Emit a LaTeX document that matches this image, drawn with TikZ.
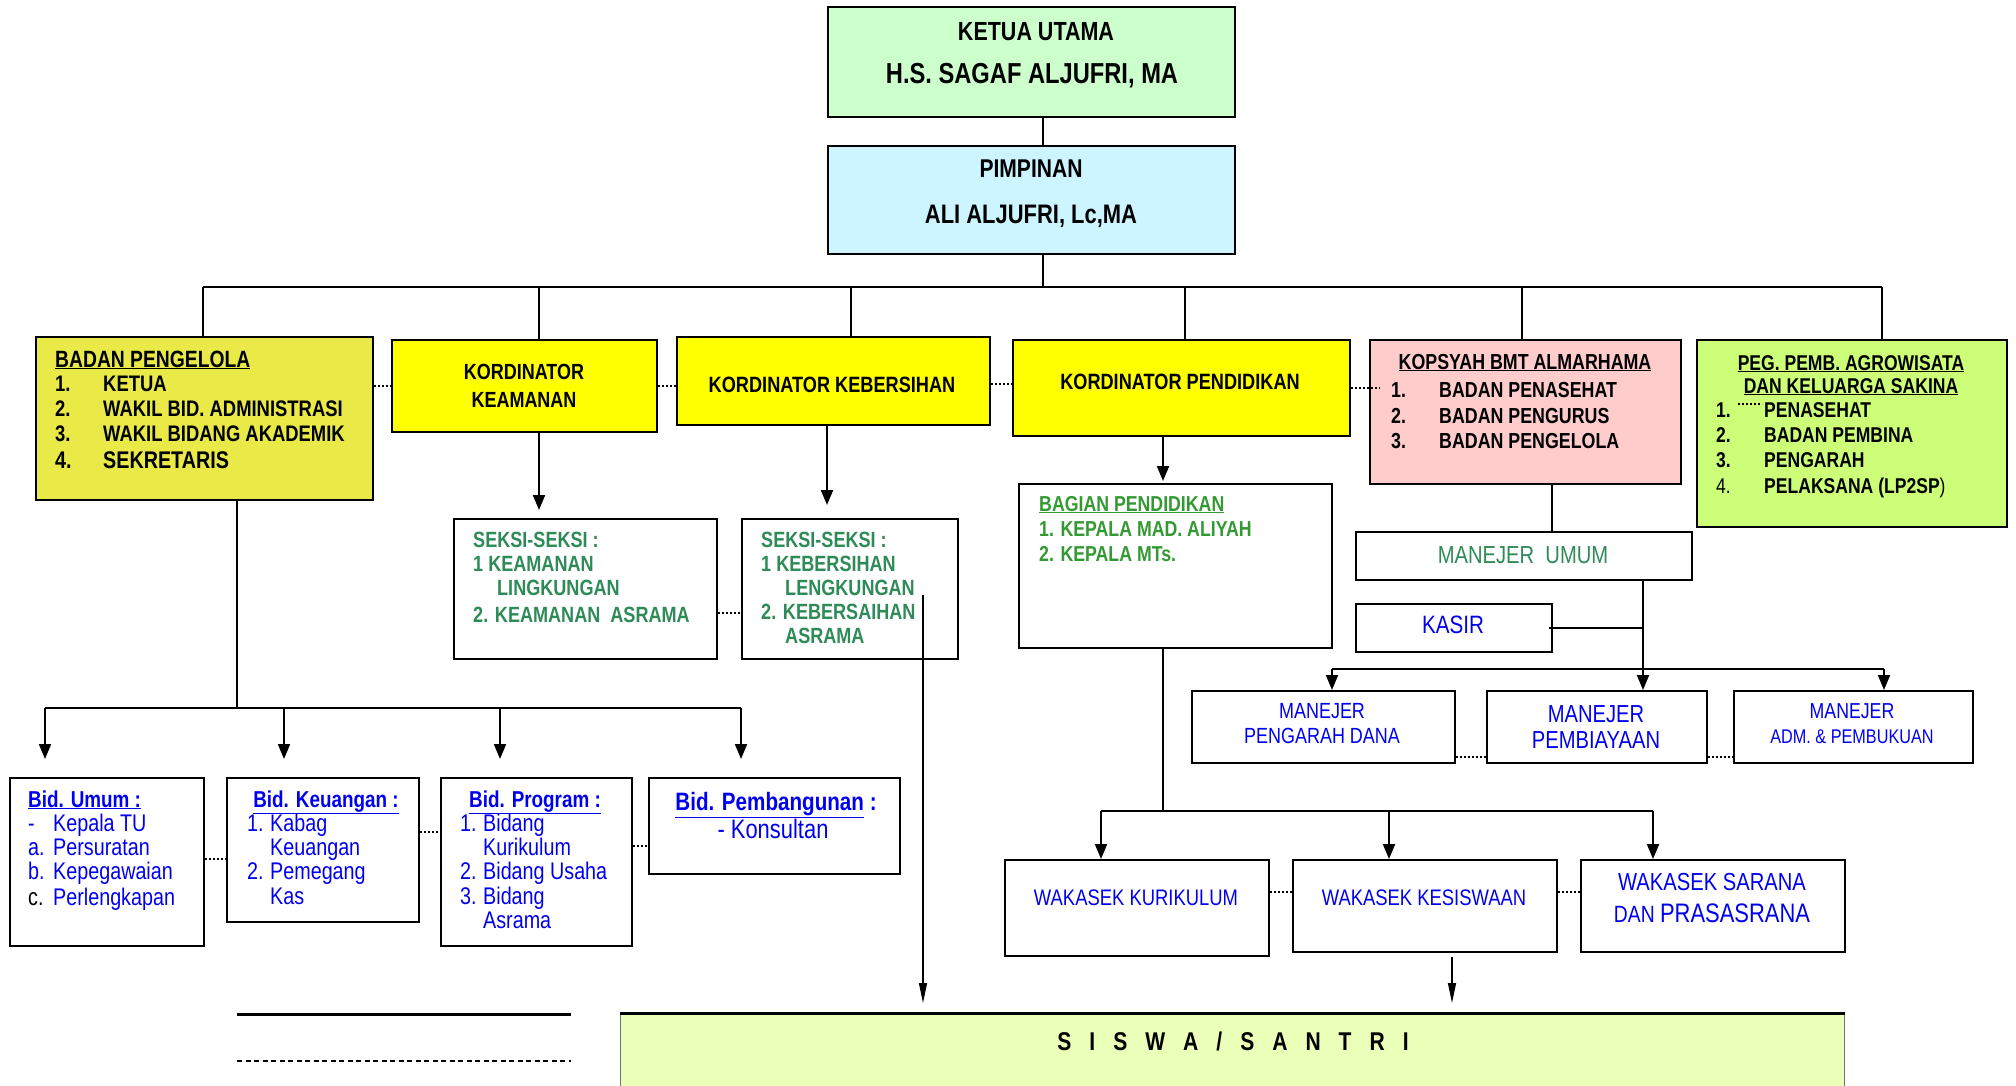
\documentclass[tikz,border=0pt]{standalone}
\usepackage{fontspec}
\setmainfont{Liberation Sans}[FakeStretch=0.82]
\usetikzlibrary{arrows.meta}
\definecolor{cketua}{RGB}{204,255,204}
\definecolor{cpimp}{RGB}{204,245,255}
\definecolor{cbadan}{RGB}{233,233,72}
\definecolor{cyel}{RGB}{255,255,0}
\definecolor{cpink}{RGB}{255,204,204}
\definecolor{cpeg}{RGB}{204,255,119}
\definecolor{csiswa}{RGB}{234,255,184}
\definecolor{tgreen}{RGB}{46,139,87}
\definecolor{tgreenb}{RGB}{51,153,51}
\definecolor{tblue}{RGB}{0,0,240}
\newcommand\fs[1]{\pgfmathsetmacro\fsz{#1*1.07}\fontsize{\fsz pt}{\fsz pt}\selectfont}
\newcommand\bx[6]{%
  \pgfmathsetmacro\bxw{#4-#2}\pgfmathsetmacro\bxh{#5-#3}%
  \node[box,#6,minimum width=\bxw pt,minimum height=\bxh pt,anchor=north west] (#1) at (#2,#3) {};}
\begin{document}
\begin{tikzpicture}[x=1pt,y=-1pt,
  box/.style={draw=black,line width=2pt,inner sep=0pt,fill=white},
  conn/.style={line width=2pt},
  arr/.style={line width=2pt,-{Triangle[length=15pt,width=12pt]}},
  thinarr/.style={line width=1.3pt,-{Triangle[length=20pt,width=8pt]}},
  dots/.style={line width=2pt,dash pattern=on 2pt off 2pt},
  tl/.style={inner sep=0pt,anchor=base west},
  tc/.style={inner sep=0pt,anchor=base}]
\fill[white] (0,0) rectangle (2016,1085);
\useasboundingbox (0,0) rectangle (2016,1085);

% ---------- boxes ----------
\bx{ketua}{827}{6}{1234}{116}{fill=cketua}
\bx{pimp}{827}{145}{1234}{253}{fill=cpimp}
\bx{badan}{35}{336}{372}{499}{fill=cbadan}
\bx{keam}{391}{339}{656}{431}{fill=cyel}
\bx{kebe}{676}{336}{989}{424}{fill=cyel}
\bx{pend}{1012}{339}{1349}{435}{fill=cyel}
\bx{kops}{1369}{339}{1680}{483}{fill=cpink}
\bx{peg}{1696}{339}{2006}{526}{fill=cpeg}
\bx{seksa}{453}{518}{716}{658}{}
\bx{seksb}{741}{518}{957}{658}{}
\bx{bag}{1018}{483}{1331}{647}{}
\bx{mum}{1355}{531}{1691}{579}{}
\bx{kasir}{1355}{603}{1551}{651}{}
\bx{mpd}{1191}{690}{1454}{762}{}
\bx{mpb}{1486}{690}{1706}{762}{}
\bx{madm}{1733}{690}{1972}{762}{}
\bx{bumum}{9}{777}{203}{945}{}
\bx{bkeu}{226}{777}{418}{921}{}
\bx{bprog}{440}{777}{631}{945}{}
\bx{bpemb}{648}{777}{899}{873}{}
\bx{wkur}{1004}{859}{1268}{955}{}
\bx{wkes}{1292}{859}{1556}{951}{}
\bx{wsar}{1580}{859}{1844}{951}{}
\bx{siswa}{620}{1013}{1844}{1100}{fill=csiswa,draw=black!55,line width=1pt}
\draw[line width=3pt] (siswa.north west) -- (siswa.north east);

% ---------- helper coordinates ----------
\coordinate (cA) at (1043,0);
\coordinate (busy) at (0,287);
\coordinate (d1) at (203,0);
\coordinate (d2) at (539,0);
\coordinate (d3) at (851,0);
\coordinate (d4) at (1185,0);
\coordinate (d5) at (1522,0);
\coordinate (d6) at (1882,0);
\coordinate (k2) at (827,0);
\coordinate (k3) at (1163,0);
\coordinate (k4) at (1552,0);
\coordinate (k5) at (1643,0);
\coordinate (k6) at (1332,0);
\coordinate (k7) at (1884,0);
\coordinate (k8) at (237,0);
\coordinate (h1) at (0,708);
\coordinate (h2) at (0,811);
\coordinate (h3) at (0,669);
\coordinate (a1) at (45,0);
\coordinate (a2) at (284,0);
\coordinate (a3) at (500,0);
\coordinate (a4) at (741,0);
\coordinate (tipy) at (0,759);
\coordinate (w1) at (1101,0);
\coordinate (w2) at (1389,0);
\coordinate (w3) at (1653,0);
\coordinate (ls) at (923,595);
\coordinate (wk) at (1452,0);
\coordinate (r1) at (0,386);
\coordinate (r2) at (0,384);
\coordinate (r3) at (0,388);
\coordinate (r4) at (0,757);
\coordinate (r5) at (0,613);
\coordinate (r6) at (0,859);
\coordinate (r7) at (0,832);
\coordinate (r8) at (0,846);
\coordinate (r9) at (0,892);
\coordinate (kend) at (1380,0);
\coordinate (lg1) at (237,1014);
\coordinate (lg2) at (571,1014);
\coordinate (lg3) at (237,1061);
\coordinate (lg4) at (571,1061);
\coordinate (pd1) at (1738,404);
\coordinate (pd2) at (1762,404);

% ---------- connectors ----------
\draw[conn] (ketua.south -| cA) -- (pimp.north -| cA);
\draw[conn] (pimp.south -| cA) -- (busy -| cA);
\draw[conn] (busy -| d1) -- (busy -| d6);
\draw[conn] (busy -| d1) -- (badan.north -| d1);
\draw[conn] (busy -| d2) -- (keam.north -| d2);
\draw[conn] (busy -| d3) -- (kebe.north -| d3);
\draw[conn] (busy -| d4) -- (pend.north -| d4);
\draw[conn] (busy -| d5) -- (kops.north -| d5);
\draw[conn] (busy -| d6) -- (peg.north -| d6);

\draw[dots] (r1 -| badan.east) -- (r1 -| keam.west);
\draw[dots] (r1 -| keam.east) -- (r1 -| kebe.west);
\draw[dots] (r2 -| kebe.east) -- (r2 -| pend.west);
\draw[dots] (r3 -| pend.east) -- (r3 -| kend);
\draw[line width=1.5pt,dash pattern=on 2pt off 2pt] (pd1) -- (pd2);

\draw[arr,shorten >=8pt] (keam.south -| d2) -- (seksa.north -| d2);
\draw[arr,shorten >=13pt] (kebe.south -| k2) -- (seksb.north -| k2);
\draw[arr,shorten >=2pt] (pend.south -| k3) -- (bag.north -| k3);
\draw[dots] (r5 -| seksa.east) -- (r5 -| seksb.west);

\draw[conn] (kops.south -| k4) -- (mum.north -| k4);
\draw[arr] (mum.south -| k5) -- (mpb.north -| k5);
\draw[conn] ([xshift=-4pt]kasir.east) -- (kasir.east -| k5);
\draw[conn] (h3 -| k6) -- (h3 -| k7);
\draw[arr] (h3 -| k6) -- (mpd.north -| k6);
\draw[arr] (h3 -| k7) -- (madm.north -| k7);
\draw[dots] (r4 -| mpd.east) -- (r4 -| mpb.west);
\draw[dots] (r4 -| mpb.east) -- (r4 -| madm.west);

\draw[conn] (badan.south -| k8) -- (h1 -| k8);
\draw[conn] (h1 -| a1) -- (h1 -| a4);
\draw[arr] (h1 -| a1) -- (tipy -| a1);
\draw[arr] (h1 -| a2) -- (tipy -| a2);
\draw[arr] (h1 -| a3) -- (tipy -| a3);
\draw[arr] (h1 -| a4) -- (tipy -| a4);
\draw[dots] (r6 -| bumum.east) -- (r6 -| bkeu.west);
\draw[dots] (r7 -| bkeu.east) -- (r7 -| bprog.west);
\draw[dots] (r8 -| bprog.east) -- (r8 -| bpemb.west);

\draw[conn] (bag.south -| k3) -- (h2 -| k3);
\draw[conn] (h2 -| w1) -- (h2 -| w3);
\draw[arr] (h2 -| w1) -- (wkur.north -| w1);
\draw[arr] (h2 -| w2) -- (wkes.north -| w2);
\draw[arr] (h2 -| w3) -- (wsar.north -| w3);
\draw[dots] (r9 -| wkur.east) -- (r9 -| wkes.west);
\draw[dots] (r9 -| wkes.east) -- (r9 -| wsar.west);

\draw[thinarr,shorten >=10pt] (ls) -- (siswa.north -| ls);
\draw[thinarr,shorten >=10pt] ([yshift=-4pt]wkes.south -| wk) -- (siswa.north -| wk);

\draw[line width=3pt] (lg1) -- (lg2);
\draw[line width=2.5pt,dash pattern=on 5pt off 3.5pt] (lg3) -- (lg4);

% ---------- texts ----------
\node[tc,font=\bfseries\fs{24.5}] (t01) at (1036,40) {KETUA UTAMA};
\node[tc,font=\bfseries\fs{27}] (t02) at (1032,83) {H.S. SAGAF ALJUFRI, MA};
\node[tc,font=\bfseries\fs{24}] (t03) at (1031,177) {PIMPINAN};
\node[tc,font=\bfseries\fs{25}] (t04) at (1031,223) {ALI ALJUFRI, Lc,MA};

\node[tl,font=\bfseries\fs{22}] (t05) at (55,367) {\underline{BADAN PENGELOLA}};
\node[tl,font=\bfseries\fs{21}] (t06) at (55,391) {1.};
\node[tl,font=\bfseries\fs{21}] (t07) at (103,391) {KETUA};
\node[tl,font=\bfseries\fs{21}] (t08) at (55,416) {2.};
\node[tl,font=\bfseries\fs{21}] (t09) at (103,416) {WAKIL BID. ADMINISTRASI};
\node[tl,font=\bfseries\fs{21}] (t10) at (55,441) {3.};
\node[tl,font=\bfseries\fs{21}] (t11) at (103,441) {WAKIL BIDANG AKADEMIK};
\node[tl,font=\bfseries\fs{22.5}] (t12) at (55,468) {4.};
\node[tl,font=\bfseries\fs{22.5}] (t13) at (103,468) {SEKRETARIS};

\node[tc,font=\bfseries\fs{20.5}] (t14) at (524,379) {KORDINATOR};
\node[tc,font=\bfseries\fs{20.5}] (t15) at (524,407) {KEAMANAN};
\node[tc,font=\bfseries\fs{20.7}] (t16) at (832,392) {KORDINATOR KEBERSIHAN};
\node[tc,font=\bfseries\fs{20.7}] (t17) at (1180,389) {KORDINATOR PENDIDIKAN};

\node[tc,font=\bfseries\fs{20.3}] (t18) at (1525,369) {\underline{KOPSYAH BMT ALMARHAMA}};
\node[tl,font=\bfseries\fs{20.3}] (t19) at (1391,397) {1.};
\node[tl,font=\bfseries\fs{20.3}] (t20) at (1439,397) {BADAN PENASEHAT};
\node[tl,font=\bfseries\fs{20.3}] (t21) at (1391,423) {2.};
\node[tl,font=\bfseries\fs{20.3}] (t22) at (1439,423) {BADAN PENGURUS};
\node[tl,font=\bfseries\fs{20.3}] (t23) at (1391,448) {3.};
\node[tl,font=\bfseries\fs{20.3}] (t24) at (1439,448) {BADAN PENGELOLA};

\node[tc,font=\bfseries\fs{20}] (t25) at (1851,370) {\underline{PEG. PEMB. AGROWISATA}};
\node[tc,font=\bfseries\fs{20}] (t26) at (1851,393) {\underline{DAN KELUARGA SAKINA}};
\node[tl,font=\bfseries\fs{20}] (t27) at (1716,417) {1.};
\node[tl,font=\bfseries\fs{20}] (t28) at (1764,417) {PENASEHAT};
\node[tl,font=\bfseries\fs{20}] (t29) at (1716,442) {2.};
\node[tl,font=\bfseries\fs{20}] (t30) at (1764,442) {BADAN PEMBINA};
\node[tl,font=\bfseries\fs{20}] (t31) at (1716,467) {3.};
\node[tl,font=\bfseries\fs{20}] (t32) at (1764,467) {PENGARAH};
\node[tl,font=\fs{20}] (t33) at (1716,493) {4.};
\node[tl,font=\fs{20}] (t34) at (1764,493) {\bfseries PELAKSANA (LP2SP\mdseries)};

\node[tl,font=\bfseries\fs{20.6},text=tgreen] (t35) at (473,547) {SEKSI-SEKSI :};
\node[tl,font=\bfseries\fs{20.6},text=tgreen] (t36) at (473,571) {1 KEAMANAN};
\node[tl,font=\bfseries\fs{20.6},text=tgreen] (t37) at (497,595) {LINGKUNGAN};
\node[tl,font=\bfseries\fs{20.6},text=tgreen] (t38) at (473,622) {2. KEAMANAN\ \ ASRAMA};
\node[tl,font=\bfseries\fs{20.6},text=tgreen] (t39) at (761,547) {SEKSI-SEKSI :};
\node[tl,font=\bfseries\fs{20.6},text=tgreen] (t40) at (761,571) {1 KEBERSIHAN};
\node[tl,font=\bfseries\fs{20.6},text=tgreen] (t41) at (785,595) {LENGKUNGAN};
\node[tl,font=\bfseries\fs{20.6},text=tgreen] (t42) at (761,619) {2. KEBERSAIHAN};
\node[tl,font=\bfseries\fs{20.6},text=tgreen] (t43) at (785,643) {ASRAMA};

\node[tl,font=\bfseries\fs{20.2},text=tgreenb] (t44) at (1039,511) {\underline{BAGIAN PENDIDIKAN}};
\node[tl,font=\bfseries\fs{20.2},text=tgreenb] (t45) at (1039,536) {1. KEPALA MAD. ALIYAH};
\node[tl,font=\bfseries\fs{20.2},text=tgreenb] (t46) at (1039,561) {2. KEPALA MTs.};

\node[tc,font=\fs{23},text=tgreen] (t47) at (1523,563) {MANEJER\ \ UMUM};
\node[tc,font=\fs{23.5},text=tblue] (t48) at (1453,633) {KASIR};
\node[tc,font=\fs{20.5},text=tblue] (t49) at (1322,718) {MANEJER};
\node[tc,font=\fs{20.5},text=tblue] (t50) at (1322,743) {PENGARAH DANA};
\node[tc,font=\fs{23},text=tblue] (t51) at (1596,722) {MANEJER};
\node[tc,font=\fs{23},text=tblue] (t52) at (1596,748) {PEMBIAYAAN};
\node[tc,font=\fs{20.2},text=tblue] (t53) at (1852,718) {MANEJER};
\node[tc,font=\fs{18.5},text=tblue] (t54) at (1852,743) {ADM. \& PEMBUKUAN};

\node[tl,font=\bfseries\fs{21.5},text=tblue] (t55) at (28,807) {\underline{Bid. Umum :}};
\node[tl,font=\fs{22.5},text=tblue] (t56) at (28,831) {-};
\node[tl,font=\fs{22.5},text=tblue] (t57) at (53,831) {Kepala TU};
\node[tl,font=\fs{22.5},text=tblue] (t58) at (28,855) {a.};
\node[tl,font=\fs{22.5},text=tblue] (t59) at (53,855) {Persuratan};
\node[tl,font=\fs{22.5},text=tblue] (t60) at (28,879) {b.};
\node[tl,font=\fs{22.5},text=tblue] (t61) at (53,879) {Kepegawaian};
\node[tl,font=\fs{22.5}] (t62) at (28,905) {c.};
\node[tl,font=\fs{22.5},text=tblue] (t63) at (53,905) {Perlengkapan};

\node[tc,font=\bfseries\fs{21.5},text=tblue] (t64) at (326,807) {\underline{Bid. Keuangan :}};
\node[tl,font=\fs{22.5},text=tblue] (t65) at (247,831) {1.};
\node[tl,font=\fs{22.5},text=tblue] (t66) at (270,831) {Kabag};
\node[tl,font=\fs{22.5},text=tblue] (t67) at (270,855) {Keuangan};
\node[tl,font=\fs{22.5},text=tblue] (t68) at (247,879) {2.};
\node[tl,font=\fs{22.5},text=tblue] (t69) at (270,879) {Pemegang};
\node[tl,font=\fs{22.5},text=tblue] (t70) at (270,904) {Kas};

\node[tc,font=\bfseries\fs{21.5},text=tblue] (t71) at (535,807) {\underline{Bid. Program :}};
\node[tl,font=\fs{22.5},text=tblue] (t72) at (460,831) {1.};
\node[tl,font=\fs{22.5},text=tblue] (t73) at (483,831) {Bidang};
\node[tl,font=\fs{22.5},text=tblue] (t74) at (483,855) {Kurikulum};
\node[tl,font=\fs{22.5},text=tblue] (t75) at (460,879) {2.};
\node[tl,font=\fs{22.5},text=tblue] (t76) at (483,879) {Bidang Usaha};
\node[tl,font=\fs{22.5},text=tblue] (t77) at (460,904) {3.};
\node[tl,font=\fs{22.5},text=tblue] (t78) at (483,904) {Bidang};
\node[tl,font=\fs{22.5},text=tblue] (t79) at (483,928) {Asrama};

\node[tc,font=\bfseries\fs{23.5},text=tblue] (t80) at (776,810) {\underline{Bid. Pembangunan} :};
\node[tc,font=\fs{25},text=tblue] (t81) at (773,838) {- Konsultan};

\node[tc,font=\fs{21},text=tblue] (t82) at (1136,905) {WAKASEK KURIKULUM};
\node[tc,font=\fs{21},text=tblue] (t83) at (1424,905) {WAKASEK KESISWAAN};
\node[tc,font=\fs{23},text=tblue] (t84) at (1712,890) {WAKASEK SARANA};
\node[tc,font=\fs{22},text=tblue] (t85) at (1712,922) {DAN {\fs{25}PRASASRANA}};

\node[tc,font=\bfseries\fs{24}] (t86) at (1233,1050) {S\hspace{18pt}I\hspace{18pt}S\hspace{18pt}W\hspace{18pt}A\hspace{18pt}/\hspace{18pt}S\hspace{18pt}A\hspace{18pt}N\hspace{18pt}T\hspace{18pt}R\hspace{18pt}I};
\end{tikzpicture}
\end{document}
